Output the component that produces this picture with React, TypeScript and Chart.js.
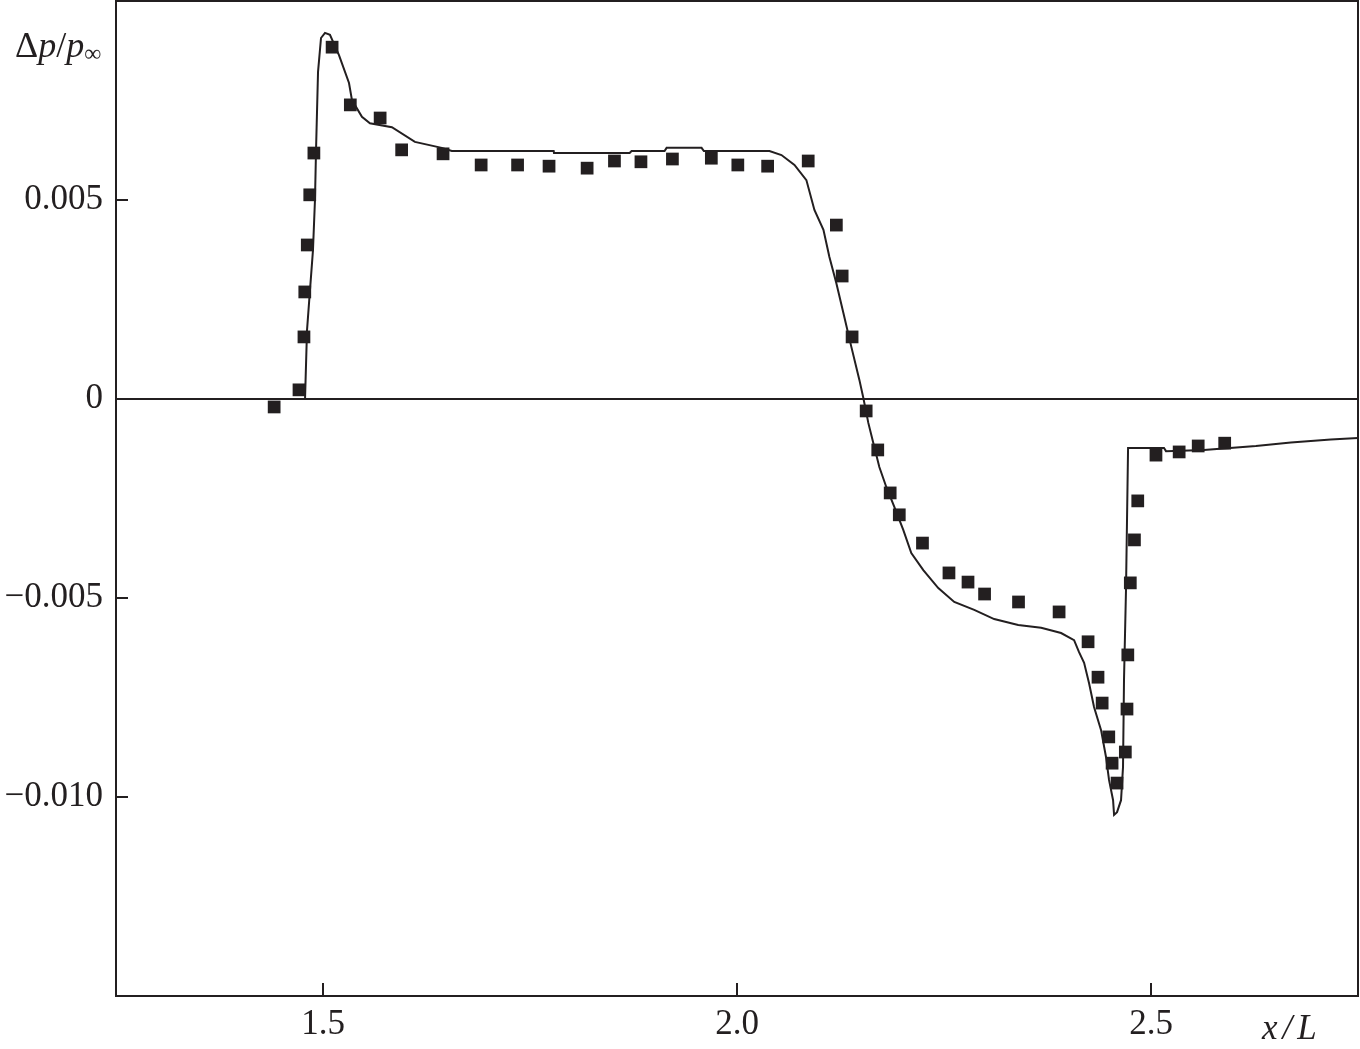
import React, { useEffect, useRef } from "react";
import { Chart, registerables } from "chart.js";

Chart.register(...registerables);

// Experimental points (square markers)
const expX = [
  1.441, 1.471, 1.477, 1.478, 1.481, 1.484, 1.489, 1.511, 1.533, 1.569,
  1.595, 1.645, 1.691, 1.735, 1.773, 1.819, 1.852, 1.884, 1.922, 1.969,
  2.001, 2.037, 2.086, 2.120, 2.127, 2.139, 2.156, 2.170, 2.185, 2.196,
  2.224, 2.256, 2.279, 2.299, 2.340, 2.389, 2.424, 2.436, 2.441, 2.449,
  2.453, 2.459, 2.469, 2.471, 2.472, 2.475, 2.480, 2.484, 2.506, 2.534,
  2.557, 2.589,
];
const expY = [
  -0.0002, 0.00023, 0.00156, 0.00269, 0.00387, 0.00513, 0.00618, 0.00884, 0.00739, 0.00706,
  0.00626, 0.00616, 0.00588, 0.00588, 0.00585, 0.0058, 0.00598, 0.00596, 0.00603, 0.00605,
  0.00588, 0.00585, 0.00598, 0.00437, 0.00309, 0.00156, -0.0003, -0.00128, -0.00236, -0.00291,
  -0.00362, -0.00437, -0.0046, -0.0049, -0.0051, -0.00535, -0.0061, -0.00699, -0.00764, -0.00849,
  -0.00915, -0.00965, -0.00887, -0.00779, -0.00643, -0.00462, -0.00354, -0.00256, -0.00141, -0.00133,
  -0.00118, -0.00111,
];

// Computed curve (solid line)
const calcX = [
  1.25, 1.4747, 1.4783, 1.4807, 1.4843, 1.4879, 1.4903, 1.4916, 1.494, 1.4976,
  1.5024, 1.5084, 1.5193, 1.5314, 1.535, 1.547, 1.5567, 1.5832, 1.611, 1.6435,
  1.6556, 1.7786, 1.779, 1.8703, 1.8727, 1.9125, 1.915, 1.9572, 1.96, 2.0392,
  2.0537, 2.0694, 2.0838, 2.0935, 2.1044, 2.1116, 2.12, 2.1285, 2.1381, 2.1478,
  2.1526, 2.1586, 2.1647, 2.1719, 2.1803, 2.19, 2.2008, 2.2105, 2.225, 2.2431,
  2.2624, 2.2865, 2.3106, 2.3396, 2.3673, 2.3914, 2.4071, 2.4131, 2.4192, 2.4252,
  2.4312, 2.4397, 2.4457, 2.4493, 2.4542, 2.4554, 2.459, 2.4638, 2.4662, 2.4674,
  2.4698, 2.4723, 2.5157, 2.5181, 2.5639, 2.6267, 2.6689, 2.7171, 2.75,
];
const calcY = [
  0, 0, 0, 0.00173, 0.00274, 0.00374, 0.005, 0.00626, 0.00822, 0.00907,
  0.0092, 0.00915, 0.00864, 0.00794, 0.00751, 0.00709, 0.00693, 0.00683, 0.00646, 0.00631,
  0.00623, 0.00623, 0.00618, 0.00618, 0.00623, 0.00623, 0.00631, 0.00631, 0.00623, 0.00623,
  0.00613, 0.00588, 0.0055, 0.00475, 0.00425, 0.00357, 0.00291, 0.00216, 0.00131, 0.00048,
  0.000025, -0.0006, -0.00111, -0.00171, -0.00221, -0.00271, -0.00329, -0.00387, -0.0043, -0.00475,
  -0.0051, -0.0053, -0.00553, -0.00568, -0.00575, -0.00588, -0.00606, -0.00636, -0.00663, -0.00714,
  -0.00774, -0.00832, -0.009, -0.00957, -0.01008, -0.01045, -0.01038, -0.01008, -0.00925, -0.00706,
  -0.0048, -0.00123, -0.00123, -0.00131, -0.00128, -0.00118, -0.00109, -0.00102, -0.00098,
];

const xTickValues = [1.5, 2.0, 2.5];
const xTickLabels = ["1.5", "2.0", "2.5"];
const yTickValues = [-0.01, -0.005, 0, 0.005];
const yTickLabels = ["\u22120.010", "\u22120.005", "0", "0.005"];

const INK = "#231f20";
const SERIF = "'Liberation Serif', 'Times New Roman', serif";

const framePlugin = {
  id: "frameAndTicks",
  afterDraw(chart: any) {
    const { ctx, chartArea: a, scales } = chart;
    ctx.save();
    ctx.strokeStyle = INK;
    ctx.lineWidth = 2;
    ctx.strokeRect(a.left, a.top, a.right - a.left, a.bottom - a.top);
    ctx.beginPath();
    for (const v of yTickValues) {
      const y = Math.round(scales.y.getPixelForValue(v));
      ctx.moveTo(a.left, y);
      ctx.lineTo(a.left + 12, y);
    }
    for (const v of xTickValues) {
      const x = Math.round(scales.x.getPixelForValue(v));
      ctx.moveTo(x, a.bottom);
      ctx.lineTo(x, a.bottom - 13);
    }
    ctx.stroke();
    ctx.restore();
  },
};

const zeroPad = (s: any) => {
  s.paddingTop = 0;
  s.paddingBottom = 0;
  s.paddingLeft = 0;
  s.paddingRight = 0;
};

export default function App() {
  const canvasRef = useRef<HTMLCanvasElement | null>(null);

  useEffect(() => {
    if (!canvasRef.current) return;
    const chart = new Chart(canvasRef.current, {
      type: "scatter",
      data: {
        datasets: [
          {
            type: "line",
            label: "calc",
            data: calcX.map((x, i) => ({ x, y: calcY[i] })),
            borderColor: INK,
            borderWidth: 2,
            pointRadius: 0,
            tension: 0,
            fill: false,
            order: 2,
          } as any,
          {
            type: "scatter",
            label: "exp",
            data: expX.map((x, i) => ({ x, y: expY[i] })),
            pointStyle: "rect",
            pointRadius: 9,
            backgroundColor: INK,
            borderColor: INK,
            borderWidth: 0,
            order: 1,
          } as any,
        ],
      },
      options: {
        responsive: false,
        animation: false,
        devicePixelRatio: 1,
        layout: { autoPadding: false, padding: { top: 1, right: 2, left: 0, bottom: 0 } },
        plugins: { legend: { display: false }, tooltip: { enabled: false } },
        scales: {
          x: {
            type: "linear",
            min: 1.25,
            max: 2.75,
            afterBuildTicks: (s: any) => {
              s.ticks = xTickValues.map((value) => ({ value }));
            },
            afterFit: (s: any) => {
              s.height = 53;
              zeroPad(s);
            },
            grid: { display: false, drawTicks: false },
            border: { display: false },
            ticks: {
              padding: 8,
              color: INK,
              font: { family: SERIF, size: 35 },
              maxRotation: 0,
              autoSkip: false,
              callback: (v: any) => xTickLabels[xTickValues.indexOf(Number(v))] ?? "",
            },
          },
          y: {
            type: "linear",
            min: -0.015,
            max: 0.01,
            afterBuildTicks: (s: any) => {
              s.ticks = yTickValues.map((value) => ({ value }));
            },
            afterFit: (s: any) => {
              s.width = 116;
              zeroPad(s);
            },
            grid: {
              drawTicks: false,
              lineWidth: 2,
              color: (c: any) => (c.tick && c.tick.value === 0 ? INK : "rgba(0,0,0,0)"),
            },
            border: { display: false },
            ticks: {
              padding: 13,
              color: INK,
              font: { family: SERIF, size: 35 },
              autoSkip: false,
              callback: (v: any) => yTickLabels[yTickValues.indexOf(Number(v))] ?? "",
            },
          },
        },
      } as any,
      plugins: [framePlugin],
    });
    return () => chart.destroy();
  }, []);

  return (
    <div style={{ position: "absolute", left: 0, top: 0, width: 1360, height: 1049, background: "#fff" }}>
      <canvas ref={canvasRef} width={1360} height={1049} style={{ display: "block" }} />
      <div
        style={{
          position: "absolute",
          left: 15,
          top: 27,
          fontFamily: SERIF,
          fontSize: 36,
          lineHeight: "36px",
          color: INK,
          whiteSpace: "nowrap",
        }}
      >
        Δ<i>p</i>/<i>p</i>
        <span style={{ fontSize: 24, position: "relative", top: 4 }}>∞</span>
      </div>
      <div
        style={{
          position: "absolute",
          left: 1262,
          top: 1010,
          fontFamily: SERIF,
          fontSize: 35,
          lineHeight: "35px",
          color: INK,
          whiteSpace: "nowrap",
          fontStyle: "italic",
          letterSpacing: 5,
        }}
      >
        x/L
      </div>
    </div>
  );
}
